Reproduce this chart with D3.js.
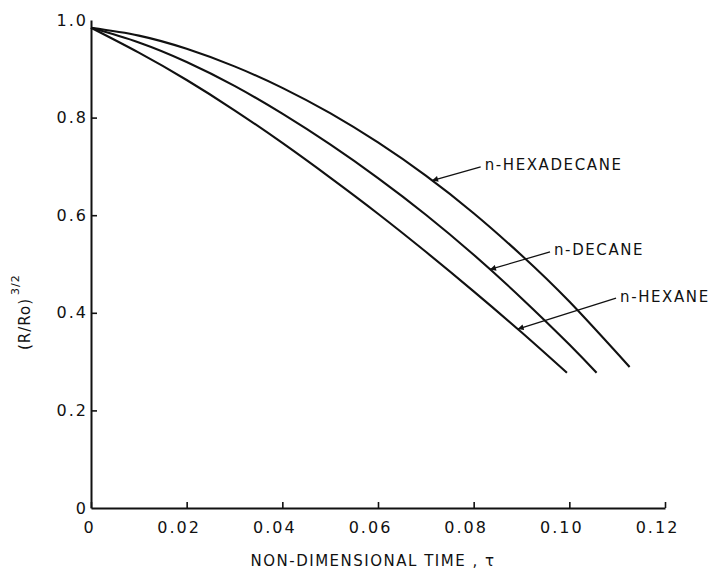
<!DOCTYPE html>
<html>
<head>
<meta charset="utf-8">
<script src="https://cdn.jsdelivr.net/npm/d3@7"></script>
<style>
  html, body { margin: 0; padding: 0; background: #fff; }
  svg { display: block; }
  text { font-family: "DejaVu Sans", sans-serif; fill: #111; }
</style>
</head>
<body>
<svg id="chart" width="715" height="569"></svg>
<script>
// ---- data ----
const xTicks = [0, 0.02, 0.04, 0.06, 0.08, 0.10, 0.12];
const xTickLabels = ["0", "0.02", "0.04", "0.06", "0.08", "0.10", "0.12"];
const yTicks = [0, 0.2, 0.4, 0.6, 0.8, 1.0];
const yTickLabels = ["0", "0.2", "0.4", "0.6", "0.8", "1.0"];

const hexadecaneTau = [0, 0.01, 0.02, 0.03, 0.04, 0.05, 0.06, 0.07, 0.08, 0.09, 0.10, 0.1126];
const hexadecaneVal = [0.984, 0.968, 0.941, 0.905, 0.861, 0.809, 0.749, 0.681, 0.604, 0.518, 0.423, 0.289];

const decaneTau = [0, 0.01, 0.02, 0.03, 0.04, 0.05, 0.06, 0.07, 0.08, 0.09, 0.10, 0.1057];
const decaneVal = [0.984, 0.954, 0.914, 0.865, 0.808, 0.745, 0.676, 0.601, 0.519, 0.430, 0.335, 0.277];

const hexaneTau = [0, 0.01, 0.02, 0.03, 0.04, 0.05, 0.06, 0.07, 0.08, 0.09, 0.0995];
const hexaneVal = [0.984, 0.933, 0.877, 0.815, 0.748, 0.677, 0.603, 0.525, 0.444, 0.360, 0.277];

const seriesNames = ["n-HEXADECANE", "n-DECANE", "n-HEXANE"];
const seriesTau = [hexadecaneTau, decaneTau, hexaneTau];
const seriesVal = [hexadecaneVal, decaneVal, hexaneVal];

// label placement (data units) and arrow target tau on each curve
const labelTau = [0.0823, 0.0968, 0.1106];
const labelVal = [0.703, 0.529, 0.434];
const arrowTau = [0.0713, 0.0834, 0.0892];

const xTitle = "NON-DIMENSIONAL TIME , \u03C4";

// ---- drawing ----
const svg = d3.select("#chart");
const x = d3.scaleLinear().domain([0, 0.12]).range([91, 665]);
const y = d3.scaleLinear().domain([0, 1]).range([508, 20]);

// arrow marker
svg.append("defs").append("marker")
  .attr("id", "ah").attr("viewBox", "0 0 10 10")
  .attr("refX", 10).attr("refY", 5)
  .attr("markerWidth", 9).attr("markerHeight", 6)
  .attr("markerUnits", "userSpaceOnUse")
  .attr("orient", "auto")
  .append("path").attr("d", "M0,0 L10,5 L0,10 Z").attr("fill", "#111");

// x axis
const gx = svg.append("g").attr("transform", `translate(0,${y(0)})`)
  .call(d3.axisBottom(x).tickValues(xTicks)
    .tickFormat((d, i) => xTickLabels[i])
    .tickSize(-6).tickSizeOuter(0).tickPadding(14));
gx.select(".domain").attr("stroke", "#111").attr("stroke-width", 2);
gx.selectAll(".tick line").attr("stroke", "#111").attr("stroke-width", 1.6);
gx.selectAll(".tick text")
  .attr("font-size", 16).attr("letter-spacing", "2px")
  .attr("font-family", "DejaVu Sans, sans-serif").attr("fill", "#111")
  .attr("dx", d => d === 0 ? -2 : -8);

// y axis
const gy = svg.append("g").attr("transform", `translate(${x(0)},0)`)
  .call(d3.axisLeft(y).tickValues(yTicks)
    .tickFormat((d, i) => yTickLabels[i])
    .tickSize(-6).tickSizeOuter(0).tickPadding(3));
gy.select(".domain").attr("stroke", "#111").attr("stroke-width", 2);
gy.selectAll(".tick line").attr("stroke", "#111").attr("stroke-width", 1.6)
  .attr("display", d => (d === 0 || d === 1) ? "none" : null);
gy.selectAll(".tick text")
  .attr("font-size", 16).attr("letter-spacing", "2px")
  .attr("font-family", "DejaVu Sans, sans-serif").attr("fill", "#111");

// curves
const line = d3.line().x(d => x(d[0])).y(d => y(d[1])).curve(d3.curveNatural);
seriesTau.forEach((taus, i) => {
  const pts = taus.map((t, j) => [t, seriesVal[i][j]]);
  svg.append("path").datum(pts)
    .attr("d", line).attr("fill", "none")
    .attr("stroke", "#111").attr("stroke-width", 2.1)
    .attr("stroke-linejoin", "round").attr("stroke-linecap", "butt");
});

// interpolate value on a curve
function valueAt(i, t) {
  const taus = seriesTau[i], vals = seriesVal[i];
  const k = Math.max(1, Math.min(taus.length - 1, d3.bisectLeft(taus, t)));
  const f = (t - taus[k - 1]) / (taus[k] - taus[k - 1]);
  return vals[k - 1] + f * (vals[k] - vals[k - 1]);
}

// labels and arrows
seriesNames.forEach((name, i) => {
  const lx = x(labelTau[i]), ly = y(labelVal[i]);
  svg.append("text").attr("x", lx).attr("y", ly)
    .attr("dy", "0.36em").attr("font-size", 15).attr("letter-spacing", "1.6px")
    .text(name);
  svg.append("line")
    .attr("x1", lx - 4).attr("y1", ly + 2)
    .attr("x2", x(arrowTau[i])).attr("y2", y(valueAt(i, arrowTau[i])))
    .attr("stroke", "#111").attr("stroke-width", 1.3)
    .attr("marker-end", "url(#ah)");
});

// axis titles
svg.append("text").attr("x", 373).attr("y", 566)
  .attr("text-anchor", "middle").attr("font-size", 15).attr("letter-spacing", "1.5px")
  .text(xTitle);

const yt = svg.append("text").attr("transform", "translate(30,350) rotate(-90)")
  .attr("font-size", 15).attr("letter-spacing", "1px");
yt.append("tspan").text("(R/Ro)");
yt.append("tspan").attr("dy", -11).attr("dx", 3).attr("font-size", 11).text("3/2");
</script>
</body>
</html>
